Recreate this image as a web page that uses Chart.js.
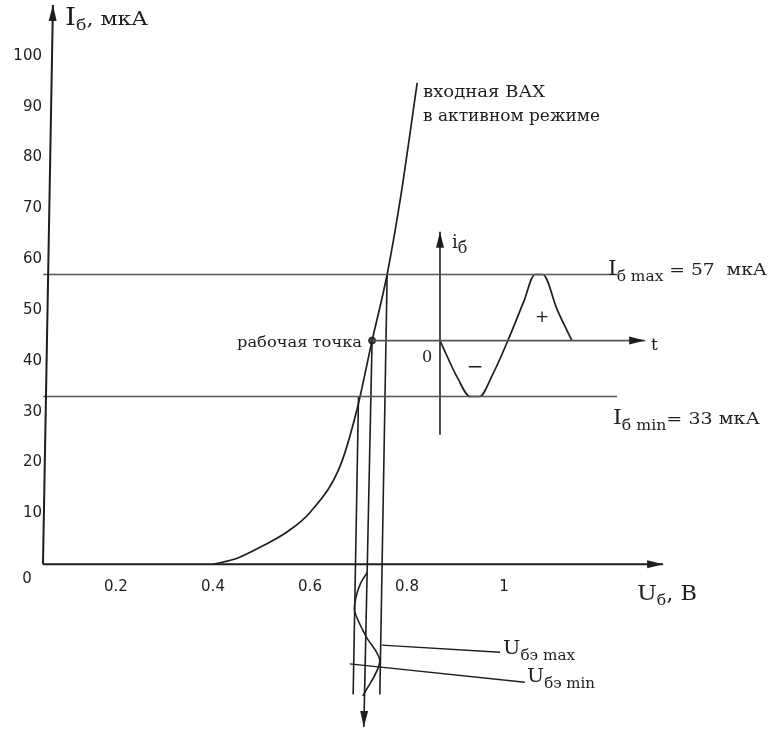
<!DOCTYPE html>
<html>
<head>
<meta charset="utf-8">
<script src="https://cdn.jsdelivr.net/npm/chart.js@4.4.1/dist/chart.umd.min.js"></script>
<style>
  html, body { margin: 0; padding: 0; background: #fff; }
  #wrap { width: 771px; height: 732px; }
</style>
</head>
<body>
<div id="wrap"><canvas id="chart" width="771" height="732"></canvas></div>
<script>
// деления осей
const xTicks = [0.2, 0.4, 0.6, 0.8, 1];
const xTickLabels = ['0.2', '0.4', '0.6', '0.8', '1'];
const yTicks = [10, 20, 30, 40, 50, 60, 70, 80, 90, 100];

// оси (U, B ; I, мкА)
const axisYU = [0.0495, 0.070];
const axisYI = [0, 110];
const axisXU = [0.0495, 1.328];
const axisXI = [0, 0];

// входная ВАХ в активном режиме
const vaxU = [0.40, 0.45, 0.50, 0.55, 0.60, 0.662, 0.697, 0.728, 0.759, 0.786, 0.821];
const vaxI = [0, 1.2, 3.5, 6.2, 10.2, 19.3, 30.5, 44, 57, 71.7, 94.7];

// уровни тока базы
const iMax = 57;
const iMin = 33;
const iWork = 44;
const levelU = [0.05, 1.233];
const workU = [0.728, 1.291];

// проекции вниз (U, I)
const dropMinU = [0.700, 0.689];
const dropMinI = [33, -25.6];
const dropWorkU = [0.728, 0.711];
const dropWorkI = [44, -32];
const dropMaxU = [0.759, 0.744];
const dropMaxI = [57, -25.6];

// напряжение база-эмиттер во времени (ось времени вниз)
const uWaveU = [0.718, 0.704, 0.695, 0.692, 0.715, 0.744, 0.709];
const uWaveI = [-1.6, -3.8, -6.4, -9.2, -14.1, -19.1, -25.9];

// ток базы во времени
const iWaveU = [0.868, 0.905, 0.930, 0.950, 0.975, 1.008, 1.040, 1.064, 1.080, 1.110, 1.140];
const iWaveI = [44, 36.5, 33, 33, 37, 44, 51.5, 57, 57, 50, 44];
const iAxisU = [0.868, 0.868];
const iAxisI = [25.5, 65.4];

// выноски
const leadMaxU = [0.748, 0.992];
const leadMaxI = [-15.9, -17.3];
const leadMinU = [0.682, 1.043];
const leadMinI = [-19.6, -23.2];

const SERIF = '"DejaVu Serif", "Liberation Serif", serif';
const SANS = '"DejaVu Sans", sans-serif';
const INK = '#1e1e1e';
const GREY = '#555';

function pts(xs, ys) {
    return xs.map((x, i) => ({ x: x, y: ys[i] }));
}

function line(label, xs, ys, color, width, smooth) {
    const ds = {
        label: label,
        data: pts(xs, ys),
        showLine: true,
        borderColor: color,
        borderWidth: width,
        pointRadius: 0,
        tension: 0,
        clip: false
    };
    if (smooth === 'mono') ds.cubicInterpolationMode = 'monotone';
    else if (smooth) ds.tension = smooth;
    return ds;
}

// подписи: части [текст, размер, сдвиг], позиция в единицах осей
const notes = [
    { parts: [['I', 24, 0], ['б', 15, 5], [', мкА', 19, 0]], u: 0.0948, i: 106.1, w: 83 },
    { parts: [['U', 21, 0], ['б', 14, 5], [', B', 20, 0]], u: 1.2742, i: -7.07, w: 60 },
    { parts: [['входная ВАХ', 16, 0]], u: 0.833, i: 91.94, w: 122 },
    { parts: [['в активном режиме', 16, 0]], u: 0.833, i: 87.23, w: 177 },
    { parts: [['рабочая точка', 14, 0]], u: 0.4495, i: 42.83, w: 125 },
    { parts: [['0', 16, 0]], u: 0.831, i: 39.69 },
    { parts: [['i', 18, 0], ['б', 16, 5]], u: 0.8928, i: 62.28 },
    { parts: [['t', 17, 0]], u: 1.303, i: 42.24 },
    { parts: [['I', 20, 0], ['б max', 14, 6], [' = 57  мкА', 17, 0]], u: 1.2144, i: 56.97, w: 159 },
    { parts: [['I', 20, 0], ['б min', 14, 6], ['= 33 мкА', 17, 0]], u: 1.2247, i: 27.5, w: 147 },
    { parts: [['U', 19, 0], ['бэ max', 14, 6]], u: 0.998, i: -17.68, w: 72 },
    { parts: [['U', 19, 0], ['бэ min', 14, 6]], u: 1.0474, i: -23.18, w: 68 }
];
const centerMarks = [
    { text: '−', font: '20px ' + SERIF, u: 0.9402, i: 38.7 },
    { text: '+', font: '17px ' + SERIF, u: 1.0784, i: 48.53 },
    { text: '0', font: '15px ' + SANS, u: 0.0165, i: -2.95 }
];
const arrows = ['axisY', 'axisX', 'dropWork', 'iAxis', 'workLine'];

function drawRich(ctx, parts, x, y, width) {
    let natural = 0;
    parts.forEach(p => {
        ctx.font = p[1] + 'px ' + SERIF;
        natural += ctx.measureText(p[0]).width;
    });
    const k = width ? width / natural : 1;
    ctx.save();
    ctx.translate(x, y);
    ctx.scale(k, 1);
    let cx = 0;
    parts.forEach(p => {
        ctx.font = p[1] + 'px ' + SERIF;
        ctx.fillText(p[0], cx, p[2]);
        cx += ctx.measureText(p[0]).width;
    });
    ctx.restore();
}

const sketchPlugin = {
    id: 'sketch',
    afterDatasetsDraw(chart) {
        const ctx = chart.ctx;
        const sx = chart.scales.x;
        const sy = chart.scales.y;
        ctx.save();
        ctx.fillStyle = INK;

        // стрелки на концах линий
        arrows.forEach(name => {
            const ds = chart.data.datasets.find(d => d.label === name);
            const n = ds.data.length;
            const a = ds.data[n - 2], b = ds.data[n - 1];
            const x1 = sx.getPixelForValue(a.x), y1 = sy.getPixelForValue(a.y);
            const x2 = sx.getPixelForValue(b.x), y2 = sy.getPixelForValue(b.y);
            const ang = Math.atan2(y2 - y1, x2 - x1);
            const len = 16, half = 4;
            ctx.beginPath();
            ctx.moveTo(x2, y2);
            ctx.lineTo(x2 - len * Math.cos(ang) + half * Math.sin(ang), y2 - len * Math.sin(ang) - half * Math.cos(ang));
            ctx.lineTo(x2 - len * Math.cos(ang) - half * Math.sin(ang), y2 - len * Math.sin(ang) + half * Math.cos(ang));
            ctx.closePath();
            ctx.fill();
        });

        // надписи
        ctx.textAlign = 'left';
        ctx.textBaseline = 'alphabetic';
        notes.forEach(n => {
            drawRich(ctx, n.parts, sx.getPixelForValue(n.u), sy.getPixelForValue(n.i), n.w);
        });
        ctx.textAlign = 'center';
        ctx.textBaseline = 'middle';
        centerMarks.forEach(m => {
            ctx.font = m.font;
            ctx.fillText(m.text, sx.getPixelForValue(m.u), sy.getPixelForValue(m.i));
        });
        ctx.restore();
    }
};

const datasets = [
    line('axisY', axisYU, axisYI, INK, 2),
    line('axisX', axisXU, axisXI, INK, 2),
    line('iMax', levelU, [iMax, iMax], GREY, 1.6),
    line('iMin', levelU, [iMin, iMin], GREY, 1.6),
    line('workLine', workU, [iWork, iWork], GREY, 1.6),
    line('vax', vaxU, vaxI, INK, 1.7, 'mono'),
    line('dropMin', dropMinU, dropMinI, INK, 1.6),
    line('dropWork', dropWorkU, dropWorkI, INK, 1.6),
    line('dropMax', dropMaxU, dropMaxI, INK, 1.6),
    line('uWave', uWaveU, uWaveI, INK, 1.6, 0.3),
    line('iWave', iWaveU, iWaveI, INK, 1.7, 'mono'),
    line('iAxis', iAxisU, iAxisI, INK, 1.6),
    line('leadMax', leadMaxU, leadMaxI, INK, 1.3),
    line('leadMin', leadMinU, leadMinI, INK, 1.3),
    {
        label: 'workPoint',
        data: pts([0.728], [iWork]),
        pointRadius: 3.5,
        pointBackgroundColor: '#444',
        pointBorderColor: INK,
        pointBorderWidth: 1,
        clip: false
    }
];

new Chart(document.getElementById('chart').getContext('2d'), {
    type: 'scatter',
    data: { datasets: datasets },
    options: {
        responsive: false,
        animation: false,
        layout: { padding: { left: 0, right: 103, top: 5, bottom: 4 } },
        plugins: {
            legend: { display: false },
            tooltip: { enabled: false }
        },
        scales: {
            x: {
                type: 'linear',
                min: 0.0557,
                max: 1.3381,
                position: { y: 0 },
                grid: { display: false, drawTicks: false },
                border: { display: false },
                afterBuildTicks: s => { s.ticks = xTicks.map(v => ({ value: v })); },
                afterFit: s => { s.paddingLeft = 0; s.paddingRight = 0; },
                ticks: {
                    autoSkip: false,
                    maxRotation: 0,
                    padding: 14,
                    color: INK,
                    font: { family: SANS, size: 15 },
                    callback: v => xTickLabels[xTicks.indexOf(v)]
                }
            },
            y: {
                type: 'linear',
                min: -32,
                max: 110,
                grid: { display: false, drawTicks: false },
                border: { display: false },
                afterBuildTicks: s => { s.ticks = yTicks.map(v => ({ value: v })); },
                afterFit: s => { s.width = 46; s.paddingTop = 0; s.paddingBottom = 0; },
                ticks: {
                    padding: 4,
                    color: INK,
                    font: { family: SANS, size: 15 }
                }
            }
        }
    },
    plugins: [sketchPlugin]
});
</script>
</body>
</html>
